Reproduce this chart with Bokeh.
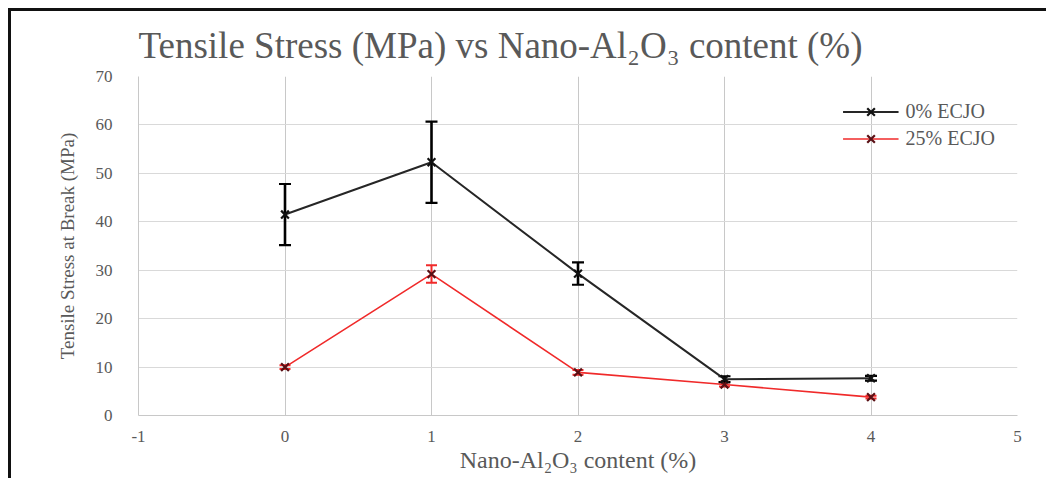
from bokeh.plotting import figure
from bokeh.models import (Range1d, FixedTicker, ColumnDataSource, Whisker, TeeHead,
                          Legend, LegendItem, Title)
from bokeh.embed import file_html
from bokeh.resources import INLINE

# ---- data ----
nano_content = [0, 1, 2, 3, 4]
stress_0_ecjo = [41.5, 52.3, 29.3, 7.5, 7.7]
err_0_ecjo = [6.3, 8.4, 2.3, 0.6, 0.5]
stress_25_ecjo = [10.0, 29.2, 8.9, 6.4, 3.8]
err_25_ecjo = [0.4, 1.8, 0.5, 0.4, 0.3]
x_ticks = [-1, 0, 1, 2, 3, 4, 5]
y_ticks = [0, 10, 20, 30, 40, 50, 60, 70]

TITLE = "Tensile Stress (MPa) vs Nano-Al\u2082O\u2083  content (%)"
XLABEL = "Nano-Al\u2082O\u2083 content (%)"
YLABEL = "Tensile Stress at Break (MPa)"
SERIES = ["0% ECJO", "25% ECJO"]

FONT = "Liberation Serif"
GRAY = "#595959"

p = figure(width=1038, height=470, output_backend="svg", toolbar_location=None,
           x_range=Range1d(-1, 5), y_range=Range1d(0, 70),
           min_border_left=127, min_border_right=32, min_border_top=65, min_border_bottom=66)
p.styles = {"box-shadow": "-3px -3px 0px 0px #111111",
            "margin-left": "11px", "margin-top": "11px"}
p.outline_line_color = None
p.background_fill_color = "white"
p.border_fill_color = "white"

p.xaxis.ticker = FixedTicker(ticks=x_ticks)
p.yaxis.ticker = FixedTicker(ticks=y_ticks)
p.xaxis.major_label_overrides = {-1: "-1"}
for ax in (p.xaxis[0], p.yaxis[0]):
    ax.axis_line_color = "#c8c8c8"
    ax.major_tick_line_color = None
    ax.minor_tick_line_color = None
    ax.major_label_text_font = FONT
    ax.major_label_text_font_size = "17px"
    ax.major_label_text_color = GRAY
    ax.axis_label_text_font = FONT
    ax.axis_label_text_font_style = "normal"
    ax.axis_label_text_color = GRAY
p.xaxis.axis_label = XLABEL
p.yaxis.axis_label = YLABEL
p.xaxis.axis_label_text_font_size = "24px"
p.yaxis.axis_label_text_font_size = "19px"
p.xaxis.major_label_standoff = 9
p.yaxis.major_label_standoff = 20
p.xaxis.axis_label_standoff = 2
p.yaxis.axis_label_standoff = 15

p.xgrid.ticker = FixedTicker(ticks=x_ticks)
p.ygrid.ticker = FixedTicker(ticks=y_ticks)
p.xgrid.grid_line_color = "#c8c8c8"
p.ygrid.grid_line_color = "#d9d9d9"

src0 = ColumnDataSource(dict(x=nano_content, y=stress_0_ecjo,
                             upper=[v + e for v, e in zip(stress_0_ecjo, err_0_ecjo)],
                             lower=[v - e for v, e in zip(stress_0_ecjo, err_0_ecjo)]))
src25 = ColumnDataSource(dict(x=nano_content, y=stress_25_ecjo,
                              upper=[v + e for v, e in zip(stress_25_ecjo, err_25_ecjo)],
                              lower=[v - e for v, e in zip(stress_25_ecjo, err_25_ecjo)]))

BLACK = "#262626"
RED = "#f02a2a"
DARKRED = "#5a1015"

l25 = p.line("x", "y", source=src25, line_color=RED, line_width=1.6)
w25 = Whisker(source=src25, base="x", upper="upper", lower="lower", dimension="height",
              line_color=RED, line_width=2,
              upper_head=TeeHead(size=11, line_color=RED, line_width=2),
              lower_head=TeeHead(size=11, line_color=RED, line_width=2))
p.add_layout(w25)
m25 = p.scatter("x", "y", source=src25, marker="x", size=11, line_color=DARKRED, line_width=2.2)

l0 = p.line("x", "y", source=src0, line_color=BLACK, line_width=2)
w0 = Whisker(source=src0, base="x", upper="upper", lower="lower", dimension="height",
             line_color="#000000", line_width=2.6,
             upper_head=TeeHead(size=12, line_color="#000000", line_width=2.2),
             lower_head=TeeHead(size=12, line_color="#000000", line_width=2.2))
p.add_layout(w0)
m0 = p.scatter("x", "y", source=src0, marker="x", size=11, line_color="#111111", line_width=2.2)

legend = Legend(items=[LegendItem(label=SERIES[0], renderers=[l0, m0]),
                       LegendItem(label=SERIES[1], renderers=[l25, m25])],
                location="top_right", margin=22, padding=2, spacing=0,
                glyph_width=56, glyph_height=27, label_height=27, label_standoff=7,
                label_text_font=FONT, label_text_font_size="20px", label_text_color=GRAY,
                border_line_color=None, background_fill_alpha=0)
p.add_layout(legend)

p.title = Title(text=TITLE, align="left", offset=0, standoff=22,
                text_font=FONT, text_font_size="37px", text_color=GRAY,
                text_font_style="normal")

open("out.html", "w").write(file_html(p, INLINE))
